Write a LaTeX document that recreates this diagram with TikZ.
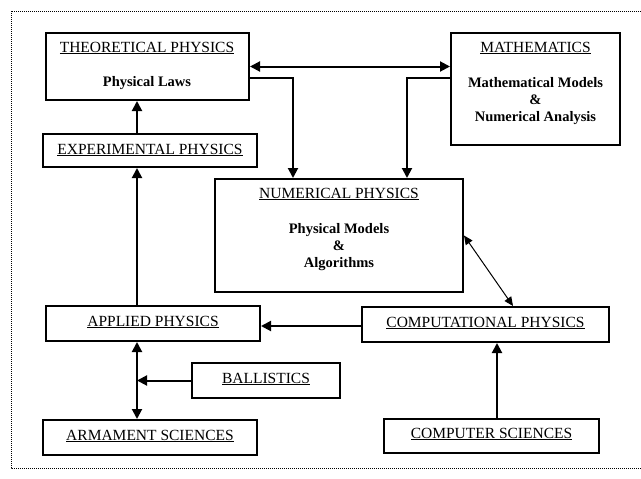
\documentclass[tikz,border=0pt]{standalone}
\usepackage{fontspec}
\setmainfont{Liberation Serif}
\usetikzlibrary{arrows.meta}
\newcommand{\ttl}[1]{\underline{#1}}
\begin{document}
\begin{tikzpicture}[x=1pt,y=-1pt,
  box/.style={draw, line width=2pt, rectangle, inner sep=0pt},
  ttlnode/.style={inner sep=0pt, font=\fontsize{15.5}{17}\selectfont},
  subnode/.style={inner sep=0pt, align=center, font=\fontsize{14.5}{17}\selectfont\bfseries},
  conn/.style={line width=2pt, -{Triangle[length=10pt,width=10pt]}},
  dconn/.style={line width=2pt, {Triangle[length=10pt,width=10pt]}-{Triangle[length=10pt,width=10pt]}},
  thin/.style={line width=1pt, {Triangle[length=9pt,width=8pt]}-{Triangle[length=9pt,width=8pt]}}]
\useasboundingbox (0,0) rectangle (641,479);
\draw[line width=1pt, dash pattern=on 1pt off 1pt] (645,11) -- (11,11) -- (11,468) -- (645,468);

\node[box, minimum width=203pt, minimum height=67pt] (theo) at (147.5,66.5) {};
\node[box, minimum width=214pt, minimum height=33pt] (exp) at (150,150.5) {};
\node[box, minimum width=169pt, minimum height=112pt] (math) at (535.5,89) {};
\node[box, minimum width=248pt, minimum height=113pt] (num) at (339,235.5) {};
\node[box, minimum width=247pt, minimum height=35pt] (comp) at (485.5,324.5) {};
\node[box, minimum width=214pt, minimum height=35pt] (appl) at (153,323.5) {};
\node[box, minimum width=148pt, minimum height=35pt] (ball) at (266,380.5) {};
\node[box, minimum width=214pt, minimum height=35pt] (arm) at (150,437.5) {};
\node[box, minimum width=215pt, minimum height=34pt] (cs) at (491.5,436) {};

\node[ttlnode] (theoT) at (147,48) {\ttl{THEORETICAL PHYSICS}};
\node[subnode] (theoS) at (147,83) {Physical Laws};
\node[ttlnode] (expT) at (150,150) {\ttl{EXPERIMENTAL PHYSICS}};
\node[ttlnode] (mathT) at (535.5,48) {\ttl{MATHEMATICS}};
\node[subnode] (mathS) at (535.5,101) {Mathematical Models\\\&\\Numerical Analysis};
\node[ttlnode] (numT) at (339,194) {\ttl{NUMERICAL PHYSICS}};
\node[subnode] (numS) at (339,247) {Physical Models\\\&\\Algorithms};
\node[ttlnode] (compT) at (485.5,323) {\ttl{COMPUTATIONAL PHYSICS}};
\node[ttlnode] (applT) at (153,322) {\ttl{APPLIED PHYSICS}};
\node[ttlnode] (ballT) at (266,379) {\ttl{BALLISTICS}};
\node[ttlnode] (armT) at (150,436) {\ttl{ARMAMENT SCIENCES}};
\node[ttlnode] (csT) at (491.5,434) {\ttl{COMPUTER SCIENCES}};

\coordinate (j1) at (293,78);
\coordinate (j2) at (407,78);
\coordinate (v1) at (137,0);
\coordinate (v2) at (137,380.5);
\coordinate (h1) at (0,326);
\coordinate (v3) at (497,0);
\coordinate (d1) at (513,0);

\draw[dconn] (theo.east) -- (math.west |- theo.east);
\draw[conn] (theo.east |- j1) -| (num.north -| j1);
\draw[conn] (math.west |- j2) -| (num.north -| j2);
\draw[conn] (exp.north -| v1) -- (theo.south -| v1);
\draw[conn] (appl.north -| v1) -- (exp.south -| v1);
\draw[dconn] (appl.south -| v1) -- (arm.north -| v1);
\draw[conn] (ball.west) -- (v2);
\draw[conn] (comp.west |- h1) -- (appl.east |- h1);
\draw[conn] (cs.north -| v3) -- (comp.south -| v3);
\draw[thin] (num.east) -- (comp.north -| d1);
\end{tikzpicture}
\end{document}
